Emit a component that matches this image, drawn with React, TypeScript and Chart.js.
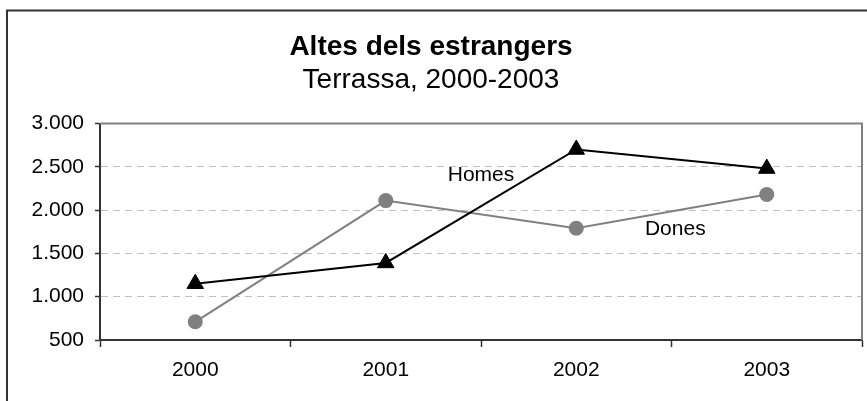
import React, { useEffect, useRef } from "react";
import { Chart, registerables } from "chart.js";

Chart.register(...registerables);

const years = ["2000", "2001", "2002", "2003"];
const homes = [1150, 1390, 2700, 2480];
const dones = [710, 2110, 1790, 2180];
const seriesNames = ["Homes", "Dones"];
const yMin = 500;
const yMax = 3000;
const yStep = 500;
// in-chart series labels: category position (fractional index) and value
const labelIndex = [1.5, 2.52];
const labelValue = [2400, 1775];
const titleText = "Altes dels estrangers";
const subtitleText = "Terrassa, 2000-2003";

const FONT = "'Liberation Sans', Arial, Helvetica, sans-serif";

const fmt = (v: number) => String(v).replace(/\B(?=(\d{3})+(?!\d))/g, ".");

const framePlugin = {
  id: "frame",
  beforeDraw(chart: any) {
    const { ctx } = chart;
    ctx.save();
    ctx.fillStyle = "#ffffff";
    ctx.fillRect(0, 0, chart.width, chart.height);
    ctx.strokeStyle = "#333333";
    ctx.lineWidth = 2;
    ctx.beginPath();
    ctx.moveTo(7, chart.height + 2);
    ctx.lineTo(7, 10.5);
    ctx.lineTo(chart.width + 2, 10.5);
    ctx.stroke();
    ctx.restore();
  },
  beforeDatasetsDraw(chart: any) {
    const { ctx, chartArea } = chart;
    ctx.save();
    ctx.strokeStyle = "#808080";
    ctx.lineWidth = 2;
    ctx.beginPath();
    ctx.moveTo(chartArea.left, chartArea.top);
    ctx.lineTo(chartArea.right, chartArea.top);
    ctx.lineTo(chartArea.right, chartArea.bottom);
    ctx.stroke();
    ctx.restore();
  },
};

const seriesLabelPlugin = {
  id: "seriesLabels",
  afterDatasetsDraw(chart: any) {
    const { ctx, scales } = chart;
    ctx.save();
    ctx.fillStyle = "#000000";
    ctx.font = `21px ${FONT}`;
    ctx.textAlign = "center";
    ctx.textBaseline = "middle";
    seriesNames.forEach((name, i) => {
      const x = scales.x.getPixelForValue(labelIndex[i]);
      const y = scales.y.getPixelForValue(labelValue[i]);
      ctx.fillText(name, x, y);
    });
    ctx.restore();
  },
};

export default function App() {
  const ref = useRef<HTMLCanvasElement>(null);

  useEffect(() => {
    if (!ref.current) return;
    const chart = new Chart(ref.current, {
      type: "line",
      data: {
        labels: years,
        datasets: [
          {
            label: seriesNames[0],
            data: homes,
            borderColor: "#000000",
            backgroundColor: "#000000",
            borderWidth: 2,
            pointStyle: "triangle",
            pointRadius: 9.5,
            pointBorderWidth: 1,
            pointBackgroundColor: "#000000",
            pointBorderColor: "#000000",
            tension: 0,
          },
          {
            label: seriesNames[1],
            data: dones,
            borderColor: "#808080",
            backgroundColor: "#808080",
            borderWidth: 2,
            pointStyle: "circle",
            pointRadius: 7.5,
            pointBorderWidth: 0,
            pointBackgroundColor: "#808080",
            pointBorderColor: "#808080",
            tension: 0,
          },
        ],
      },
      options: {
        responsive: false,
        animation: false,
        layout: { autoPadding: false, padding: { left: 0, right: 5, top: 0, bottom: 0 } },
        plugins: {
          legend: { display: false },
          tooltip: { enabled: false },
          title: {
            display: true,
            text: titleText,
            color: "#000000",
            font: { family: FONT, size: 28, weight: "bold", lineHeight: 1.2 },
            padding: { top: 30, bottom: 0 },
          },
          subtitle: {
            display: true,
            text: subtitleText,
            color: "#000000",
            font: { family: FONT, size: 28, weight: "normal", lineHeight: 1.2 },
            padding: { top: 0, bottom: 26.3 },
          },
        },
        scales: {
          x: {
            type: "category",
            offset: true,
            afterFit: (s: any) => {
              s.height = 61;
              s.paddingLeft = 0;
              s.paddingRight = 0;
            },
            grid: {
              offset: true,
              drawOnChartArea: false,
              drawTicks: true,
              tickLength: 7,
              tickColor: "#333333",
              tickWidth: 1.5,
            },
            border: { display: true, color: "#333333", width: 2 },
            ticks: {
              color: "#000000",
              font: { family: FONT, size: 21 },
              padding: 11,
              maxRotation: 0,
            },
          },
          y: {
            min: yMin,
            max: yMax,
            afterFit: (s: any) => {
              s.width = 100;
            },
            grid: {
              color: (c: any) =>
                c.tick && (c.tick.value === yMin || c.tick.value === yMax)
                  ? "rgba(0,0,0,0)"
                  : "#c0c0c0",
              lineWidth: 1,
              drawTicks: true,
              tickLength: 5,
              tickColor: "#333333",
              tickWidth: 1.5,
            },
            border: { display: true, color: "#333333", width: 2, dash: [7, 5] },
            ticks: {
              stepSize: yStep,
              color: "#000000",
              font: { family: FONT, size: 21 },
              padding: 11,
              callback: (v: any) => fmt(Number(v)),
            },
          },
        },
      },
      plugins: [framePlugin, seriesLabelPlugin],
    });
    return () => chart.destroy();
  }, []);

  return (
    <div style={{ position: "fixed", left: 0, top: 0, width: 867, height: 401 }}>
      <canvas ref={ref} width={867} height={401} style={{ display: "block" }} />
    </div>
  );
}
